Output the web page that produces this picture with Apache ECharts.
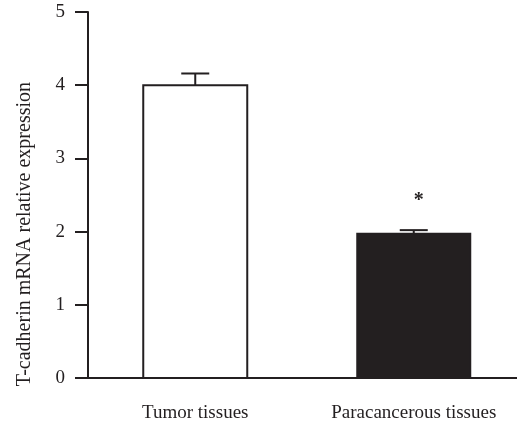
<!DOCTYPE html>
<html>
<head>
<meta charset="utf-8">
<script src="https://cdn.jsdelivr.net/npm/echarts@6/dist/echarts.min.js"></script>
<style>html,body{margin:0;padding:0;background:#fff}#c{width:517px;height:425px}</style>
</head>
<body>
<div id="c"></div>
<script>
const categories = ['Tumor tissues', 'Paracancerous tissues'];
const means = [4.0, 1.97];
const errors = [0.16, 0.05];
const marks = ['', '*'];
const yTicks = [0, 1, 2, 3, 4, 5];

const INK = '#231f20';
const FONT = '"Liberation Serif", "DejaVu Serif", serif';
const barWidths = [104, 113];
const barFills = ['#ffffff', INK];

const chart = echarts.init(document.getElementById('c'), null, {renderer: 'canvas'});
chart.setOption({
  animation: false,
  backgroundColor: '#ffffff',
  grid: {left: 86, right: -6, top: 12, bottom: 47, containLabel: false, outerBoundsMode: 'none'},
  xAxis: {
    type: 'category',
    data: categories,
    boundaryGap: true,
    axisLine: {lineStyle: {color: INK, width: 2}},
    axisTick: {alignWithLabel: true, length: 12, lineStyle: {color: INK, width: 2}},
    axisLabel: {color: INK, fontFamily: FONT, fontSize: 19, margin: 26}
  },
  yAxis: {
    type: 'value',
    min: yTicks[0],
    max: yTicks[yTicks.length - 1],
    interval: 1,
    offset: -2,
    splitLine: {show: false},
    axisLine: {show: true, lineStyle: {color: INK, width: 2}},
    axisTick: {show: true, length: 13, lineStyle: {color: INK, width: 2}},
    axisLabel: {color: INK, fontFamily: FONT, fontSize: 19, margin: 23}
  },
  graphic: [{
    type: 'text',
    left: 15,
    top: 82,
    rotation: Math.PI / 2,
    style: {
      text: 'T-cadherin mRNA relative expression',
      fill: INK,
      font: '20px ' + FONT
    }
  }],
  series: [{
    type: 'custom',
    data: categories.map((c, i) => [i, means[i], errors[i]]),
    renderItem: function (params, api) {
      const i = api.value(0);
      const v = api.value(1);
      const e = api.value(2);
      const base = api.coord([i, 0]);
      const top = api.coord([i, v]);
      const eTop = api.coord([i, v + e]);
      const w = barWidths[i];
      const cx = base[0];
      const children = [
        {
          type: 'line',
          shape: {x1: cx, y1: top[1], x2: cx, y2: eTop[1]},
          style: {stroke: INK, lineWidth: 2}
        },
        {
          type: 'line',
          shape: {x1: cx - 14, y1: eTop[1], x2: cx + 14, y2: eTop[1]},
          style: {stroke: INK, lineWidth: 2}
        },
        {
          type: 'rect',
          shape: {x: cx - w / 2, y: top[1], width: w, height: base[1] - top[1]},
          style: {fill: barFills[i], stroke: INK, lineWidth: 2}
        }
      ];
      if (marks[i]) {
        children.push({
          type: 'text',
          style: {
            text: marks[i],
            x: cx + 5,
            y: eTop[1] - 29,
            fill: INK,
            font: 'bold 20px ' + FONT,
            align: 'center',
            verticalAlign: 'middle'
          }
        });
      }
      return {type: 'group', children: children};
    }
  }]
});
</script>
</body>
</html>
